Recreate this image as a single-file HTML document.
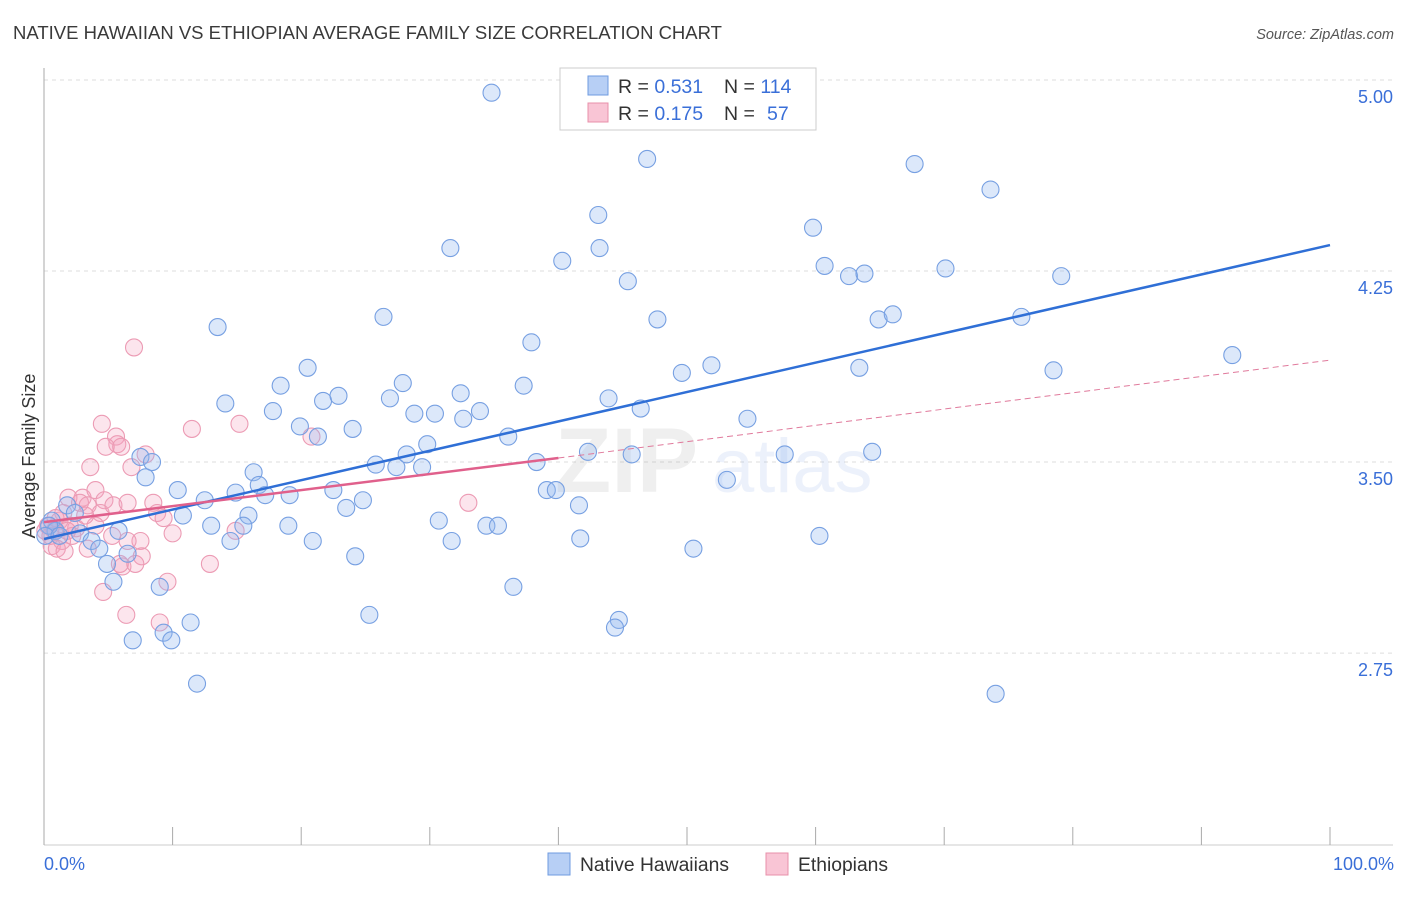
<!DOCTYPE html>
<html><head><meta charset="utf-8"><style>
body{margin:0;background:#fff;font-family:"Liberation Sans",sans-serif;}
svg text{font-family:"Liberation Sans",sans-serif;}
</style></head><body>
<svg id="chart" width="1406" height="892">
<text x="13" y="39" font-size="18.5" fill="#3a3a3a">NATIVE HAWAIIAN VS ETHIOPIAN AVERAGE FAMILY SIZE CORRELATION CHART</text>
<text x="1394" y="39" font-size="14.5" fill="#555" text-anchor="end" font-style="italic">Source: ZipAtlas.com</text>
<g id="grid"></g>
<g id="watermark" opacity="0.09">
<text x="555" y="492" font-size="92" font-family="Liberation Serif" fill="#555" font-weight="bold">ZIP</text>
<text x="712" y="492" font-size="76" fill="#3a6fd8">atlas</text>
</g>
<g id="pink"></g><g id="blue"></g><g id="trends"></g>
<text x="35" y="456" font-size="18" fill="#333" text-anchor="middle" transform="rotate(-90 35 456)">Average Family Size</text>
<text x="44" y="870" font-size="18" fill="#3a6fd8">0.0%</text>
<text x="1394" y="870" font-size="18" fill="#3a6fd8" text-anchor="end">100.0%</text>
<g>
<rect x="560" y="68" width="256" height="62" fill="#fff" stroke="#ccc"/>
<rect x="588" y="76" width="20" height="19" fill="#b7cff5" stroke="#6f9be0"/>
<rect x="588" y="103" width="20" height="19" fill="#f9c5d5" stroke="#e890aa"/>
<text x="618" y="93" font-size="19.5" fill="#333">R = <tspan fill="#3a6fd8">0.531</tspan><tspan x="724">N = </tspan><tspan fill="#3a6fd8">114</tspan></text>
<text x="618" y="120" font-size="19.5" fill="#333">R = <tspan fill="#3a6fd8">0.175</tspan><tspan x="724">N = </tspan><tspan x="767" fill="#3a6fd8">57</tspan></text>
</g>
<g>
<rect x="548" y="853" width="22" height="22" fill="#b7cff5" stroke="#6f9be0"/>
<text x="580" y="871" font-size="19.3" fill="#333">Native Hawaiians</text></g>
<g>
<rect x="766" y="853" width="22" height="22" fill="#f9c5d5" stroke="#e890aa"/>
<text x="798" y="871" font-size="19.3" fill="#333">Ethiopians</text></g>
</svg>
<script>
const yTicks=[5.00,4.25,3.50,2.75];
const yTickLabels=["5.00","4.25","3.50","2.75"];
const xTicks=[0,10,20,30,40,50,60,70,80,90,100];
const blueX=[34.8,46.9,67.7,73.6,43.1,59.8,31.6,43.2,40.3,60.7,62.6,63.8,70.1,79.1,45.4,13.5,26.4,47.7,64.9,66.0,76.0,37.9,92.4,20.5,49.6,51.9,63.4,78.5,18.4,27.9,37.3,14.1,21.7,22.9,26.9,32.4,43.9,46.4,17.8,28.8,30.4,32.6,33.9,54.7,19.9,24.0,21.3,36.1,29.8,7.5,8.4,28.2,42.3,45.7,57.6,64.4,25.8,27.4,29.4,38.3,7.9,16.3,16.7,10.4,14.9,22.5,39.1,39.8,12.5,17.2,19.1,24.8,1.8,2.4,10.8,15.9,23.5,41.6,13.0,15.5,19.0,30.7,34.4,35.3,0.6,0.9,2.8,3.7,5.8,14.5,20.9,31.7,41.7,60.3,4.3,6.5,50.5,24.2,4.9,5.4,9.0,36.5,25.3,44.7,11.4,44.4,9.3,6.9,9.9,11.9,74.0,53.1,0.4,0.1,1.2];
const blueY=[4.95,4.69,4.67,4.57,4.47,4.42,4.34,4.34,4.29,4.27,4.23,4.24,4.26,4.23,4.21,4.03,4.07,4.06,4.06,4.08,4.07,3.97,3.92,3.87,3.85,3.88,3.87,3.86,3.80,3.81,3.80,3.73,3.74,3.76,3.75,3.77,3.75,3.71,3.70,3.69,3.69,3.67,3.70,3.67,3.64,3.63,3.60,3.60,3.57,3.52,3.50,3.53,3.54,3.53,3.53,3.54,3.49,3.48,3.48,3.50,3.44,3.46,3.41,3.39,3.38,3.39,3.39,3.39,3.35,3.37,3.37,3.35,3.33,3.30,3.29,3.29,3.32,3.33,3.25,3.25,3.25,3.27,3.25,3.25,3.27,3.23,3.22,3.19,3.23,3.19,3.19,3.19,3.20,3.21,3.16,3.14,3.16,3.13,3.10,3.03,3.01,3.01,2.90,2.88,2.87,2.85,2.83,2.80,2.80,2.63,2.59,3.43,3.25,3.21,3.21];
const pinkX=[7.0,4.5,15.2,11.5,5.6,5.7,4.8,6.0,20.8,7.9,3.6,6.8,3.0,4.0,1.9,2.8,4.7,3.4,4.4,5.4,8.5,6.5,8.8,9.3,10.0,33.0,1.5,1.2,2.0,2.2,1.4,0.3,0.6,1.0,1.6,3.4,7.5,7.6,5.3,6.5,6.1,5.9,7.1,12.9,4.6,9.6,6.4,9.0,14.9,0.8,0.1,2.5,1.8,0.5,4.0,0.9,3.2];
const pinkY=[3.95,3.65,3.65,3.63,3.60,3.57,3.56,3.56,3.60,3.53,3.48,3.48,3.36,3.39,3.36,3.34,3.35,3.33,3.30,3.33,3.34,3.34,3.30,3.28,3.22,3.34,3.30,3.27,3.25,3.21,3.19,3.25,3.17,3.16,3.15,3.16,3.19,3.13,3.21,3.19,3.09,3.10,3.10,3.10,2.99,3.03,2.90,2.87,3.23,3.23,3.23,3.24,3.23,3.21,3.25,3.28,3.29];
const blueTrend=[[0,3.198],[100,4.352]];
const pinkTrend=[[0,3.264],[40,3.516]];
const pinkDash=[[40,3.516],[100,3.90]];

const NS="http://www.w3.org/2000/svg";
const xs=v=>44+v*12.86;
const ys=v=>80+(5-v)*254.7;
function mk(tag,attrs,parent){const e=document.createElementNS(NS,tag);for(const k in attrs)e.setAttribute(k,attrs[k]);parent.appendChild(e);return e;}
const grid=document.getElementById('grid');
yTicks.forEach((t,i)=>{
  const l=mk('line',{x1:44,x2:1393,y1:ys(t),y2:ys(t),stroke:'#ddd','stroke-dasharray':'4,4'},grid);
  
  
  const tx=mk('text',{x:1393,y:ys(t)+23,'font-size':18,fill:'#3a6fd8','text-anchor':'end'},grid);
  tx.textContent=yTickLabels[i];
  
  
});
const ax=mk('line',{x1:44,x2:44,y1:68,y2:845,stroke:'#aaa'},grid);


const bx=mk('line',{x1:44,x2:1393,y1:845,y2:845,stroke:'#ccc'},grid);


xTicks.forEach(t=>{
  const l=mk('line',{x1:xs(t),x2:xs(t),y1:827,y2:845,stroke:'#aaa'},grid);
  
  
});
const pg=document.getElementById('pink');
pinkX.forEach((x,i)=>{
  const c=mk('circle',{cx:xs(x),cy:ys(pinkY[i]),r:8.5,fill:'rgba(245,160,190,0.28)',stroke:'#ec9bb4','stroke-width':1.1},pg);
  
  
});
const bg=document.getElementById('blue');
blueX.forEach((x,i)=>{
  const c=mk('circle',{cx:xs(x),cy:ys(blueY[i]),r:8.5,fill:'rgba(150,185,240,0.33)',stroke:'#77a0e2','stroke-width':1.1},bg);
  
  
});
const tg=document.getElementById('trends');
const bt=mk('line',{x1:xs(blueTrend[0][0]),y1:ys(blueTrend[0][1]),x2:xs(blueTrend[1][0]),y2:ys(blueTrend[1][1]),stroke:'#2f6fd6','stroke-width':2.5},tg);


const pd=mk('line',{x1:xs(pinkDash[0][0]),y1:ys(pinkDash[0][1]),x2:xs(pinkDash[1][0]),y2:ys(pinkDash[1][1]),stroke:'#e07a9c','stroke-width':1,'stroke-dasharray':'6,4'},tg);


const pt=mk('line',{x1:xs(pinkTrend[0][0]),y1:ys(pinkTrend[0][1]),x2:xs(pinkTrend[1][0]),y2:ys(pinkTrend[1][1]),stroke:'#e0608c','stroke-width':2.5},tg);


</script>
</body></html>
